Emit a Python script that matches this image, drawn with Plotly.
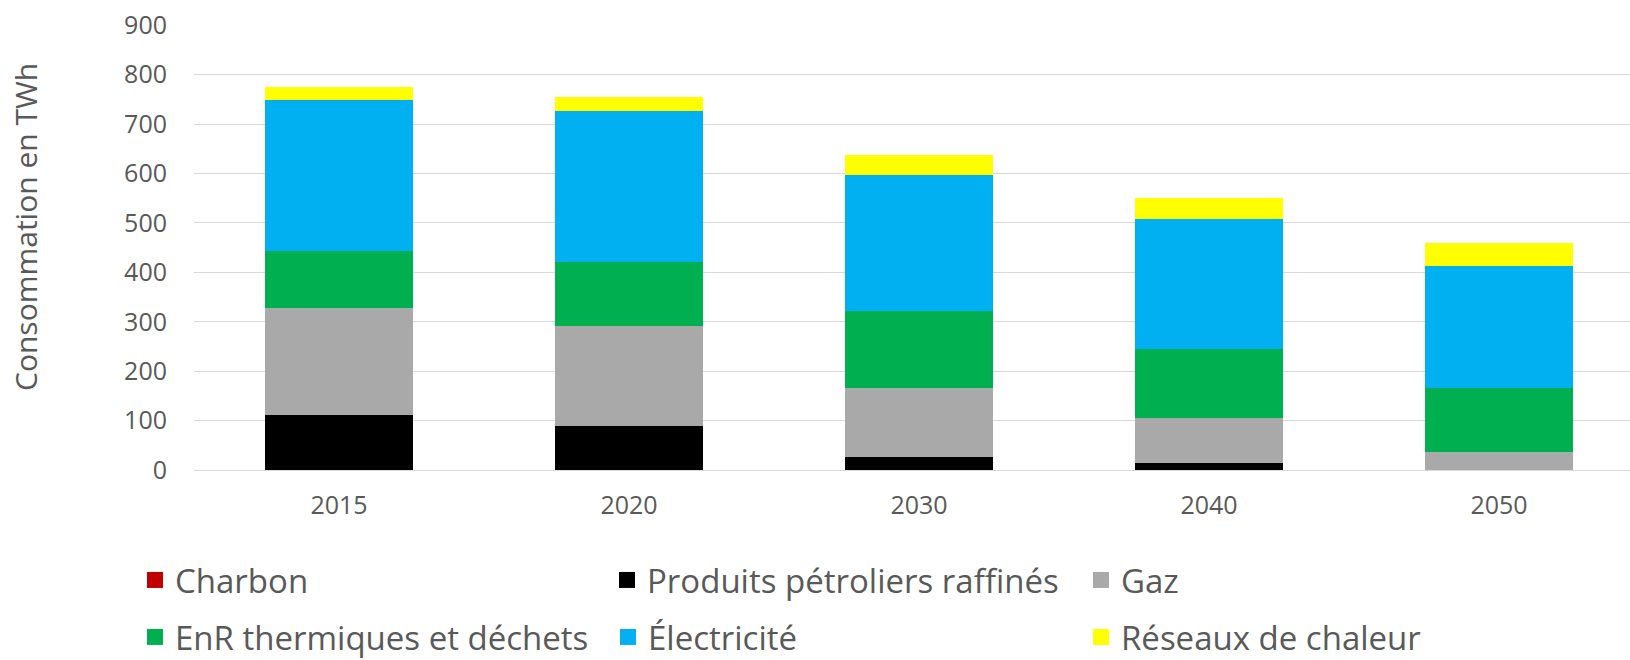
import plotly.graph_objects as go

years = ["2015", "2020", "2030", "2040", "2050"]
charbon = [0, 0, 0, 0, 0]
petrole = [112, 90, 27, 14, 0]
gaz = [216, 202, 139, 91, 36]
enr = [116, 128, 156, 139, 130]
electricite = [304, 307, 275, 263, 246]
chaleur = [28, 28, 40, 44, 48]
y_ticks = [0, 100, 200, 300, 400, 500, 600, 700, 800, 900]

series_names = ["Charbon", "Produits pétroliers raffinés", "Gaz",
                "EnR thermiques et déchets", "Électricité", "Réseaux de chaleur"]
series_values = [charbon, petrole, gaz, enr, electricite, chaleur]
series_colors = ["#C00000", "#000000", "#A9A9A9", "#00B050", "#00B0F0", "#FFFF00"]
legend_ids = ["legend", "legend2", "legend3", "legend4", "legend5", "legend6"]
# legend placement (container px): left x, vertical centre y
legend_x_px = [135, 607, 1081, 135, 608, 1081]
legend_y_px = [580, 580, 580, 637, 637, 637]

FONT = "Open Sans"
GREY = "#595959"
W, H = 1630, 660

fig = go.Figure()
for name, vals, col in zip(series_names, series_values, series_colors):
    fig.add_trace(go.Bar(
        x=years, y=vals, name=name, marker=dict(color=col, line=dict(width=0)),
        legendgroup=name, showlegend=False,
    ))
# legend entries (square swatches)
for name, col, leg in zip(series_names, series_colors, legend_ids):
    fig.add_trace(go.Scatter(
        x=[None], y=[None], name=name, mode="markers",
        marker=dict(symbol="square", size=16, color=col),
        legendgroup=name, legend=leg, showlegend=True,
    ))

legends = {}
for leg, lx, ly in zip(legend_ids, legend_x_px, legend_y_px):
    legends[leg] = dict(
        orientation="h", xref="container", yref="container",
        x=lx / W, y=1 - ly / H, xanchor="left", yanchor="middle",
        font=dict(size=33, color=GREY, family=FONT),
        itemsizing="trace", bgcolor="rgba(0,0,0,0)",
    )

fig.update_layout(
    barmode="stack",
    bargap=0.493,
    width=W, height=H,
    margin=dict(l=194, r=0, t=25, b=190),
    plot_bgcolor="white", paper_bgcolor="white",
    font=dict(family=FONT, color=GREY),
    annotations=[dict(
        text="Consommation en TWh", textangle=-90,
        xref="paper", yref="paper",
        x=-(194 - 26) / 1436, y=(470 - 227) / 445,
        xanchor="center", yanchor="middle", showarrow=False,
        font=dict(size=30, color=GREY, family=FONT),
    )],
    **legends,
)

fig.update_xaxes(
    type="category", range=[-0.5, 4.4517],
    showline=False, showgrid=False, ticks="",
    tickfont=dict(size=25, color=GREY, family=FONT),
    ticklabelstandoff=18,
)
fig.update_yaxes(
    range=[0, 900.6], tickvals=y_ticks,
    showgrid=True, gridcolor="#D9D9D9", gridwidth=1.4,
    zeroline=True, zerolinecolor="#D9D9D9", zerolinewidth=1.4,
    showline=False, ticks="",
    tickfont=dict(size=25, color=GREY, family=FONT),
    ticklabelstandoff=26,
)

fig.write_html(
    "out.html",
    config={"displayModeBar": False},
    post_script="document.body.style.margin='0';document.body.style.overflow='hidden';",
)
